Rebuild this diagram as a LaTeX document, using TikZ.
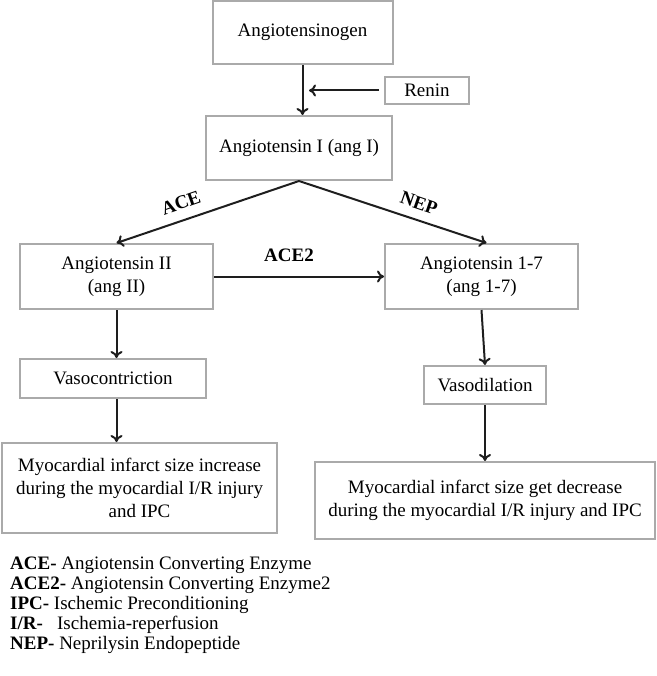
\documentclass[tikz,border=0pt]{standalone}
\usepackage{fontspec}
\setmainfont{Liberation Serif}
\usetikzlibrary{arrows.meta}
\definecolor{boxgray}{RGB}{170,170,170}
\definecolor{arrowdark}{RGB}{30,30,30}
\tikzset{
  box/.style={draw=boxgray, line width=2pt, inner sep=0pt, align=center,
    font=\fontsize{19}{23}\selectfont},
  conn/.style={draw=arrowdark, line width=2pt, -{To[length=7pt,width=12pt]}},
  lab/.style={font=\fontsize{19}{23}\selectfont\bfseries, inner sep=0pt},
  leg/.style={font=\fontsize{19}{20}\selectfont, inner sep=0pt, anchor=base west}
}
\begin{document}
\begin{tikzpicture}[x=1pt,y=-1pt]
\useasboundingbox (0,0) rectangle (656,676);
\node[box, minimum width=180pt, minimum height=63pt] (gen) at (302.5,32.5) {Angiotensinogen};
\node[box, minimum width=84pt, minimum height=27pt] (renin) at (427,90.5) {Renin};
\node[box, minimum width=186pt, minimum height=64pt] (ang1) at (299,148) {Angiotensin I (ang I)};
\node[box, minimum width=193pt, minimum height=65pt] (ang2) at (116.5,276.5) {Angiotensin II\\(ang II)};
\node[box, minimum width=193pt, minimum height=65pt] (ang17) at (481.5,276.5) {Angiotensin 1-7\\(ang 1-7)};
\node[box, minimum width=186pt, minimum height=39pt] (vasoc) at (113,378.5) {Vasocontriction};
\node[box, minimum width=122pt, minimum height=38pt] (vasod) at (485,385) {Vasodilation};
\node[box, minimum width=275pt, minimum height=90pt] (myoL) at (139.5,488) {Myocardial infarct size increase\\during the myocardial I/R injury\\and IPC};
\node[box, minimum width=340pt, minimum height=77pt] (myoR) at (485,500.5) {Myocardial infarct size get decrease\\during the myocardial I/R injury and IPC};

\coordinate (rj) at (309,90.5);
\draw[conn] (gen.south) -- (gen.south |- ang1.north);
\draw[conn, shorten <=5pt] (renin.west) -- (rj);
\draw[conn] (ang1.south) -- (ang2.north);
\draw[conn] (ang1.south) -- ([xshift=5pt]ang17.north);
\draw[conn] (ang2.east) -- (ang17.west);
\draw[conn] (ang2.south) -- (ang2.south |- vasoc.north);
\draw[conn] (ang2.south |- vasoc.south) -- (ang2.south |- myoL.north);
\draw[conn] (ang17.south) -- (vasod.north);
\draw[conn] (vasod.south) -- (vasod.south |- myoR.north);

\node[lab, rotate=19] (ace) at (181,203) {ACE};
\node[lab, rotate=-19] (nep) at (419,203) {NEP};
\node[lab] (ace2) at (289,255) {ACE2};

\node[leg] (l1) at (10,569) {\textbf{ACE-} Angiotensin Converting Enzyme};
\node[leg] (l2) at (10,589) {\textbf{ACE2-} Angiotensin Converting Enzyme2};
\node[leg] (l3) at (10,609) {\textbf{IPC-} Ischemic Preconditioning};
\node[leg] (l4) at (10,629) {\textbf{I/R-}\hspace{0.5em} Ischemia-reperfusion};
\node[leg] (l5) at (10,649) {\textbf{NEP-} Neprilysin Endopeptide};
\end{tikzpicture}
\end{document}
